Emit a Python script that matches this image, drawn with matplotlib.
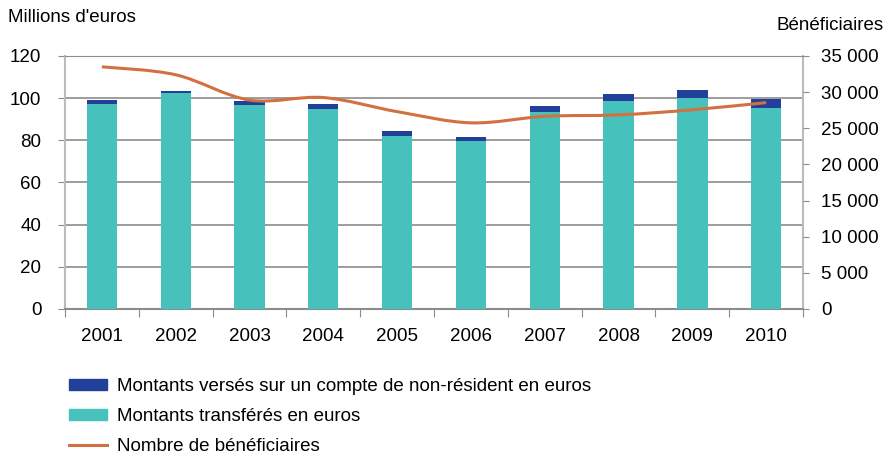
import matplotlib as mpl
mpl.use('Agg')
import matplotlib.pyplot as plt
import numpy as np
from matplotlib.path import Path
from matplotlib.patches import PathPatch
from matplotlib.lines import Line2D
from matplotlib.patches import Patch

plt.rcParams['font.family'] = ['Liberation Sans', 'DejaVu Sans']

annees = ['2001', '2002', '2003', '2004', '2005', '2006', '2007', '2008', '2009', '2010']
transferes = [97.2, 102.5, 96.8, 94.9, 82.1, 79.7, 93.5, 98.7, 100.1, 95.4]
non_resident = [1.9, 0.9, 1.9, 2.3, 2.3, 1.9, 2.8, 3.3, 3.8, 4.2]
beneficiaires = [33500, 32400, 28900, 29250, 27300, 25750, 26650, 26850, 27550, 28550]

teal = '#47C1BC'
navy = '#22409A'
orange = '#D2703F'
grey = '#8C8C8C'
fs = 13.5


def smooth_path(xs, ys):
    # Excel-style smoothed line: cubic Bezier through every point
    pts = np.column_stack([xs, ys]).astype(float)
    verts = [pts[0]]
    codes = [Path.MOVETO]
    n = len(pts)
    for i in range(n - 1):
        p0 = pts[i - 1] if i > 0 else pts[i]
        p1 = pts[i]
        p2 = pts[i + 1]
        p3 = pts[i + 2] if i + 2 < n else pts[i + 1]
        c1 = p1 + (p2 - p0) / 6.0
        c2 = p2 - (p3 - p1) / 6.0
        verts += [c1, c2, p2]
        codes += [Path.CURVE4] * 3
    return Path(verts, codes)


fig = plt.figure(figsize=(8.84, 4.57), dpi=100)
ax = fig.add_axes([0.0735, 0.324, 0.835, 0.5535])
x = np.arange(len(annees))

ax.bar(x, transferes, width=0.41, color=teal, zorder=3)
ax.bar(x, non_resident, width=0.41, bottom=transferes, color=navy, zorder=3)

ax.set_xlim(-0.5, len(annees) - 0.5)
ax.set_ylim(0, 120)
ax.set_yticks(range(0, 121, 20))
ax.yaxis.grid(True, color=grey, linewidth=1.2, zorder=0)
ax.tick_params(axis='y', length=5, color=grey, labelsize=fs, pad=12)
ax.set_xticks(np.arange(-0.5, len(annees), 1.0))
ax.set_xticklabels([])
ax.set_xticks(x, minor=True)
ax.set_xticklabels(annees, minor=True, fontsize=fs)
ax.tick_params(axis='x', which='major', length=6, color=grey)
ax.tick_params(axis='x', which='minor', length=0, pad=14)
for s in ['left', 'right', 'bottom']:
    ax.spines[s].set_color('#BBBBBB')
    ax.spines[s].set_linewidth(1.5)
ax.spines['top'].set_color(grey)
ax.spines['bottom'].set_color(grey)

ax2 = ax.twinx()
ax2.set_ylim(0, 35000)
ax2.set_yticks(range(0, 35001, 5000))
ax2.set_yticklabels([f'{v:,}'.replace(',', ' ') for v in range(0, 35001, 5000)])
ax2.tick_params(axis='y', length=4, color=grey, labelsize=fs, pad=9)
for s in ax2.spines.values():
    s.set_visible(False)
ax2.add_patch(PathPatch(smooth_path(x, beneficiaires), facecolor='none',
                        edgecolor=orange, linewidth=2.2, zorder=4))

fig.text(0.009, 0.961, "Millions d'euros", fontsize=fs, va='center')
fig.text(1.0, 0.945, 'Bénéficiaires', fontsize=fs, va='center', ha='right')

handles = [Patch(color=navy), Patch(color=teal), Line2D([], [], color=orange, linewidth=2.2)]
labels = ['Montants versés sur un compte de non-résident en euros',
          'Montants transférés en euros',
          'Nombre de bénéficiaires']
fig.legend(handles, labels, loc='upper left', bbox_to_anchor=(0.07, 0.189),
           frameon=False, fontsize=fs, handlelength=2.0, handleheight=0.5,
           labelspacing=0.68, handletextpad=0.55, borderaxespad=0)

fig.savefig('out.png', dpi=100)
